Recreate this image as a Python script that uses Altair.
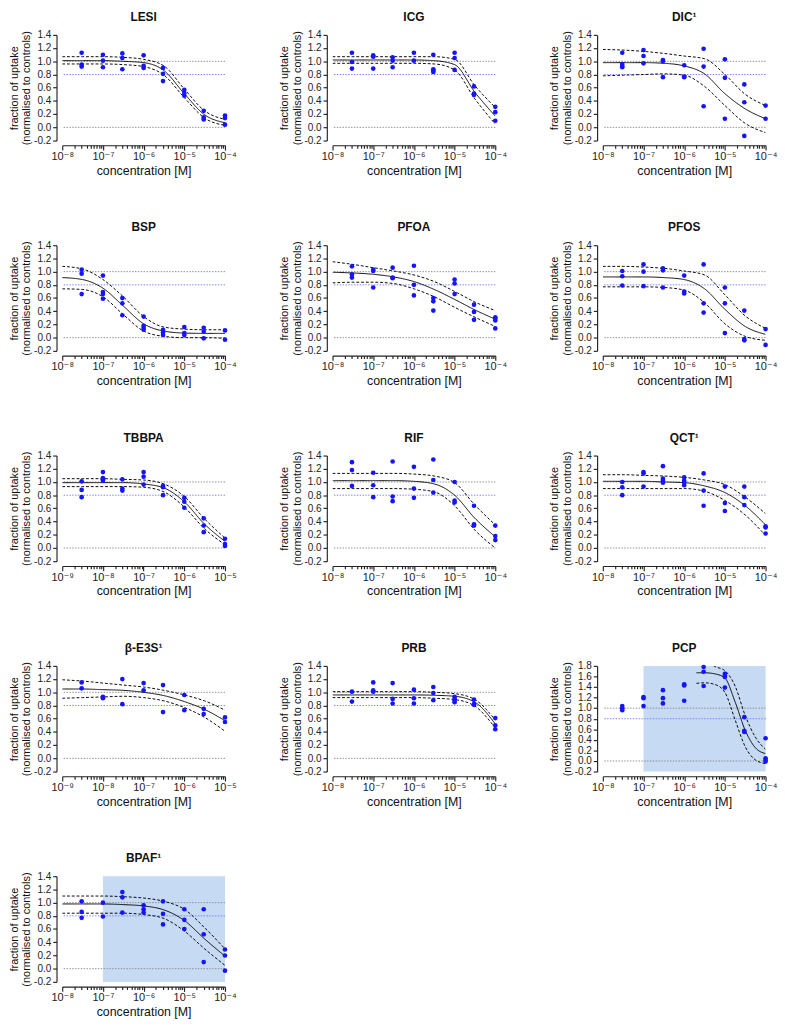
import altair as alt
import pandas as pd

FONT = "Liberation Sans, Arial, DejaVu Sans, sans-serif"
POINT_BLUE = "#1414ff"
REF_GREY = "#8a8a8a"
REF_BLUE = "#7b7bff"
SHADE = "#c6daf3"

# measured concentrations [M]
CONC_A = [3e-8, 1e-7, 3e-7, 1e-6, 3e-6, 1e-5, 3e-5, 1e-4]
CONC_B = [3e-9, 1e-8, 3e-8, 1e-7, 3e-7, 1e-6, 3e-6, 1e-5]

# concentrations at which the fitted curves / confidence bands were read
CURVE_A = [1e-8, 3.16e-8, 1e-7, 3.16e-7, 1e-6, 3.16e-6, 1e-5, 3.16e-5, 1e-4]
CURVE_B = [1e-9, 3.16e-9, 1e-8, 3.16e-8, 1e-7, 3.16e-7, 1e-6, 3.16e-6, 1e-5]
CURVE_PCP = [2e-6, 3.16e-6, 5.62e-6, 1e-5, 1.78e-5, 3.16e-5, 5.62e-5, 1e-4]

REF_LEVELS = [1.0, 0.8, 0.0]
REF_KINDS = ["grey", "blue", "grey"]

Y_TICKS_14 = [-0.2, 0.0, 0.2, 0.4, 0.6, 0.8, 1.0, 1.2, 1.4]
Y_TICKS_18 = [-0.2, 0.0, 0.2, 0.4, 0.6, 0.8, 1.0, 1.2, 1.4, 1.6, 1.8]

# ---------------- replicate values per concentration ----------------
LESI_pts = [[1.13, 0.95, 0.92], [1.10, 1.01, 0.91], [1.12, 1.05, 0.88], [1.09, 0.93, 0.90],
            [0.90, 0.81, 0.70], [0.57, 0.52, 0.48], [0.25, 0.15, 0.12], [0.18, 0.14, 0.04]]
LESI_fit = [1.01, 1.01, 1.01, 1.00, 0.98, 0.86, 0.51, 0.19, 0.07]
LESI_hi = [1.07, 1.07, 1.07, 1.06, 1.03, 0.93, 0.58, 0.25, 0.12]
LESI_lo = [0.96, 0.96, 0.96, 0.95, 0.92, 0.79, 0.45, 0.14, 0.03]

ICG_pts = [[1.13, 0.99, 0.89], [1.09, 1.07, 0.89], [1.06, 1.01, 0.91], [1.13, 1.01],
           [1.10, 0.88, 0.86, 0.84], [1.13, 1.05, 0.87], [0.62, 0.51, 0.49], [0.31, 0.23, 0.10]]
ICG_fit = [1.02, 1.02, 1.02, 1.02, 1.02, 1.01, 0.95, 0.53, 0.17]
ICG_hi = [1.07, 1.07, 1.07, 1.07, 1.07, 1.07, 1.03, 0.63, 0.30]
ICG_lo = [0.97, 0.97, 0.97, 0.97, 0.97, 0.96, 0.87, 0.43, 0.05]

DIC_pts = [[1.13, 0.96, 0.93, 0.91], [1.17, 1.08, 0.97], [1.02, 1.00, 0.76], [0.94, 0.77, 0.76],
           [1.19, 0.92, 0.32], [1.03, 0.75, 0.13], [0.65, 0.38, -0.13], [0.33, 0.13]]
DIC_fit = [0.98, 0.98, 0.98, 0.97, 0.93, 0.81, 0.51, 0.28, 0.13]
DIC_hi = [1.18, 1.17, 1.15, 1.12, 1.08, 1.04, 0.80, 0.50, 0.33]
DIC_lo = [0.78, 0.79, 0.80, 0.81, 0.79, 0.62, 0.33, 0.06, -0.08]

BSP_pts = [[1.03, 0.97, 0.66], [0.94, 0.69, 0.66, 0.59], [0.60, 0.52, 0.34], [0.32, 0.18, 0.15, 0.12],
           [0.12, 0.08, 0.04], [0.16, 0.07, 0.04], [0.15, 0.09, -0.01], [0.11, -0.03]]
BSP_fit = [0.91, 0.88, 0.75, 0.48, 0.21, 0.10, 0.07, 0.065, 0.065]
BSP_hi = [1.08, 1.04, 0.88, 0.62, 0.32, 0.16, 0.13, 0.12, 0.12]
BSP_lo = [0.74, 0.73, 0.62, 0.35, 0.10, 0.02, 0.00, 0.00, -0.01]

PFOA_pts = [[1.08, 0.96, 0.91], [1.03, 1.01, 0.76], [1.06, 0.91, 0.90], [1.09, 0.80, 0.64],
            [0.60, 0.55, 0.41], [0.88, 0.82, 0.66], [0.50, 0.39, 0.27], [0.31, 0.29, 0.26, 0.14]]
PFOA_fit = [0.99, 0.98, 0.96, 0.92, 0.85, 0.73, 0.58, 0.42, 0.28]
PFOA_hi = [1.15, 1.11, 1.06, 1.01, 0.95, 0.85, 0.70, 0.54, 0.41]
PFOA_lo = [0.83, 0.84, 0.84, 0.82, 0.74, 0.62, 0.46, 0.31, 0.17]

PFOS_pts = [[1.01, 0.93, 0.79], [1.11, 1.00, 0.78], [1.05, 1.02, 0.76], [0.94, 0.70, 0.67],
            [1.11, 0.52, 0.38], [0.76, 0.52, 0.07], [0.41, -0.02, -0.04], [0.13, -0.11]]
PFOS_fit = [0.92, 0.92, 0.92, 0.91, 0.88, 0.74, 0.43, 0.17, 0.05]
PFOS_hi = [1.08, 1.08, 1.07, 1.05, 1.01, 0.95, 0.65, 0.33, 0.14]
PFOS_lo = [0.77, 0.77, 0.77, 0.76, 0.72, 0.53, 0.21, 0.02, -0.04]

TBBPA_pts = [[1.01, 0.88, 0.77], [1.15, 1.06, 1.04, 1.02], [1.04, 0.90, 0.87], [1.15, 1.08, 0.96],
             [0.94, 0.92, 0.80], [0.76, 0.70, 0.61], [0.45, 0.34, 0.24], [0.14, 0.06, 0.03]]
TBBPA_fit = [0.99, 0.99, 0.99, 0.99, 0.97, 0.91, 0.70, 0.36, 0.10]
TBBPA_hi = [1.05, 1.05, 1.05, 1.04, 1.03, 0.97, 0.78, 0.44, 0.15]
TBBPA_lo = [0.93, 0.93, 0.93, 0.93, 0.92, 0.85, 0.62, 0.29, 0.05]

RIF_pts = [[1.30, 1.18, 0.94], [1.14, 0.95, 0.77], [1.31, 0.78, 0.71], [1.23, 0.90, 0.76],
           [1.34, 1.03, 0.84], [1.00, 0.72, 0.69], [0.64, 0.36, 0.34], [0.34, 0.18, 0.12]]
RIF_fit = [1.02, 1.02, 1.02, 1.02, 1.01, 0.97, 0.80, 0.45, 0.17]
RIF_hi = [1.13, 1.13, 1.13, 1.13, 1.12, 1.09, 0.99, 0.65, 0.35]
RIF_lo = [0.90, 0.90, 0.90, 0.90, 0.89, 0.85, 0.64, 0.27, 0.00]

QCT_pts = [[1.00, 0.92, 0.80], [1.15, 1.13, 0.93], [1.24, 1.05, 1.02, 0.99], [1.07, 1.02, 0.99, 0.95],
           [1.13, 0.87, 0.64], [0.93, 0.68, 0.56], [0.93, 0.77, 0.65], [0.33, 0.31, 0.22]]
QCT_fit = [1.01, 1.01, 1.01, 1.00, 0.99, 0.94, 0.84, 0.64, 0.35]
QCT_hi = [1.11, 1.11, 1.10, 1.09, 1.07, 1.03, 0.96, 0.77, 0.52]
QCT_lo = [0.90, 0.90, 0.90, 0.90, 0.90, 0.86, 0.72, 0.50, 0.19]

E3S_pts = [[1.15, 1.06], [0.93, 0.91], [1.20, 0.82], [1.14, 1.03],
           [1.11, 0.70], [0.96, 0.73], [0.75, 0.67], [0.62, 0.55]]
E3S_fit = [1.05, 1.05, 1.04, 1.03, 1.00, 0.95, 0.86, 0.74, 0.57]
E3S_hi = [1.19, 1.17, 1.14, 1.11, 1.08, 1.03, 0.96, 0.87, 0.73]
E3S_lo = [0.91, 0.92, 0.93, 0.94, 0.92, 0.87, 0.77, 0.62, 0.41]

PRB_pts = [[1.01, 0.86], [1.15, 1.03, 1.01], [1.14, 0.90, 0.83], [1.04, 0.91, 0.83],
           [1.08, 0.99, 0.88], [0.93, 0.90, 0.87, 0.85], [0.89, 0.82, 0.81], [0.61, 0.50, 0.44]]
PRB_fit = [0.96, 0.96, 0.96, 0.96, 0.96, 0.955, 0.94, 0.85, 0.52]
PRB_hi = [1.01, 1.01, 1.01, 1.01, 1.01, 1.00, 0.98, 0.89, 0.58]
PRB_lo = [0.92, 0.92, 0.92, 0.92, 0.92, 0.91, 0.89, 0.79, 0.46]

PCP_pts = [[1.04, 1.00, 0.96], [1.21, 1.19, 1.04], [1.34, 1.19, 1.09], [1.45, 1.43, 1.14],
           [1.78, 1.69, 1.42], [1.65, 1.62, 1.59, 1.39], [0.83, 0.57, 0.55], [0.43, 0.05, 0.02, -0.01]]
PCP_fit = [1.67, 1.67, 1.65, 1.57, 1.12, 0.58, 0.25, 0.14]
PCP_hi = [1.95, 1.92, 1.79, 1.71, 1.42, 0.86, 0.45, 0.22]
PCP_lo = [1.47, 1.48, 1.45, 1.30, 0.78, 0.27, 0.02, -0.05]

BPAF_pts = [[1.02, 0.86, 0.77], [1.00, 0.79], [1.16, 1.08, 0.85], [0.96, 0.90, 0.85],
            [1.02, 0.83, 0.67], [0.90, 0.74, 0.60], [0.90, 0.52, 0.10], [0.29, 0.20, -0.03]]
BPAF_fit = [0.98, 0.98, 0.98, 0.97, 0.95, 0.89, 0.73, 0.45, 0.19]
BPAF_hi = [1.10, 1.10, 1.10, 1.09, 1.07, 1.02, 0.90, 0.62, 0.30]
BPAF_lo = [0.84, 0.84, 0.84, 0.84, 0.82, 0.76, 0.57, 0.30, 0.05]

PCP_shade = [1e-7, 1e-4]
BPAF_shade = [1e-7, 1e-4]

PANELS = [
    ("LESI", (-8, -4), CONC_A, LESI_pts, CURVE_A, LESI_fit, LESI_hi, LESI_lo, None, False),
    ("ICG", (-8, -4), CONC_A, ICG_pts, CURVE_A, ICG_fit, ICG_hi, ICG_lo, None, False),
    ("DIC¹", (-8, -4), CONC_A, DIC_pts, CURVE_A, DIC_fit, DIC_hi, DIC_lo, None, False),
    ("BSP", (-8, -4), CONC_A, BSP_pts, CURVE_A, BSP_fit, BSP_hi, BSP_lo, None, False),
    ("PFOA", (-8, -4), CONC_A, PFOA_pts, CURVE_A, PFOA_fit, PFOA_hi, PFOA_lo, None, False),
    ("PFOS", (-8, -4), CONC_A, PFOS_pts, CURVE_A, PFOS_fit, PFOS_hi, PFOS_lo, None, False),
    ("TBBPA", (-9, -5), CONC_B, TBBPA_pts, CURVE_B, TBBPA_fit, TBBPA_hi, TBBPA_lo, None, False),
    ("RIF", (-8, -4), CONC_A, RIF_pts, CURVE_A, RIF_fit, RIF_hi, RIF_lo, None, False),
    ("QCT¹", (-8, -4), CONC_A, QCT_pts, CURVE_A, QCT_fit, QCT_hi, QCT_lo, None, False),
    ("β-E3S¹", (-9, -5), CONC_B, E3S_pts, CURVE_B, E3S_fit, E3S_hi, E3S_lo, None, False),
    ("PRB", (-8, -4), CONC_A, PRB_pts, CURVE_A, PRB_fit, PRB_hi, PRB_lo, None, False),
    ("PCP", (-8, -4), CONC_A, PCP_pts, CURVE_PCP, PCP_fit, PCP_hi, PCP_lo, PCP_shade, True),
    ("BPAF¹", (-8, -4), CONC_A, BPAF_pts, CURVE_A, BPAF_fit, BPAF_hi, BPAF_lo, BPAF_shade, False),
]

SUP = {-9: "⁻⁹", -8: "⁻⁸", -7: "⁻⁷", -6: "⁻⁶", -5: "⁻⁵", -4: "⁻⁴"}
LOG10 = "(log(datum.value)/LN10)"
IS_MAJOR = f"abs({LOG10} - round({LOG10})) < 0.01"

PLOT_W, PLOT_H = 171, 111


def x_label_expr(lo, hi):
    expr = "''"
    for k in range(hi, lo - 1, -1):
        expr = f"round({LOG10}) == {k} ? '10{SUP[k]}' : ({expr})"
    return f"({IS_MAJOR}) ? ({expr}) : ''"


def make_panel(title, xexp, conc, pts, cx, fit, hi, lo_band, shade, tall):
    lo, hi_e = xexp
    ticks = [m * 10.0 ** k for k in range(lo, hi_e) for m in range(1, 10)] + [10.0 ** hi_e]
    ydom = [-0.2, 1.8] if tall else [-0.2, 1.4]
    yticks = Y_TICKS_18 if tall else Y_TICKS_14

    xscale = alt.Scale(type="log", domain=[10.0 ** lo, 10.0 ** hi_e], nice=False)
    yscale = alt.Scale(domain=ydom, nice=False, zero=False)

    xaxis = alt.Axis(
        title="concentration [M]", values=ticks, labelExpr=x_label_expr(lo, hi_e),
        tickSize={"condition": {"test": IS_MAJOR, "value": 5}, "value": 3},
        offset=5, labelFlush=False, labelOverlap=False, labelPadding=1,
        titlePadding=3, labelFontSize=11.5, titleFontSize=13,
    )
    yaxis = alt.Axis(
        title=["fraction of uptake", "(normalised to controls)"], values=yticks,
        labelExpr="replace(format(datum.value, '.1f'), '\u2212', '-')",
        tickSize=4, offset=6, labelFlush=False, labelOverlap=False, labelPadding=2,
        titlePadding=2, labelFontSize=10.5, titleFontSize=11.5, titleLineHeight=13,
    )

    x_ax = alt.X("c:Q", scale=xscale, axis=xaxis)
    y_ax = alt.Y("v:Q", scale=yscale, axis=yaxis)

    pts_df = pd.DataFrame([{"c": c, "v": v} for c, reps in zip(conc, pts) for v in reps])
    line_rows = []
    for band, vals in (("fit", fit), ("upper", hi), ("lower", lo_band)):
        for c, v in zip(cx, vals):
            line_rows.append({"c": c, "v": v, "band": band})
    lines_df = pd.DataFrame(line_rows)
    ref_df = pd.DataFrame({"v": REF_LEVELS, "kind": REF_KINDS})

    layers = []
    if shade is not None:
        shade_df = pd.DataFrame({"c": [shade[0]], "c2": [shade[1]], "v": [ydom[0]], "v2": [ydom[1]]})
        layers.append(
            alt.Chart(shade_df).mark_rect(color=SHADE).encode(x=x_ax, x2="c2:Q", y=y_ax, y2="v2:Q")
        )
    layers.append(
        alt.Chart(ref_df).mark_rule(strokeDash=[1.5, 1.5], strokeWidth=1).encode(
            y=y_ax,
            color=alt.Color("kind:N", scale=alt.Scale(domain=["grey", "blue"], range=[REF_GREY, REF_BLUE]),
                            legend=None),
        )
    )
    layers.append(
        alt.Chart(lines_df).mark_line(color="black", strokeWidth=1, interpolate="monotone", clip=True).encode(
            x=x_ax, y=y_ax, detail="band:N",
            strokeDash=alt.StrokeDash("band:N", scale=alt.Scale(domain=["fit", "upper", "lower"],
                                                               range=[[1, 0], [3, 2], [3, 2]]), legend=None),
        )
    )
    layers.append(
        alt.Chart(pts_df).mark_circle(color=POINT_BLUE, opacity=1, size=24).encode(x=x_ax, y=y_ax)
    )
    return alt.layer(*layers).properties(
        width=PLOT_W, height=PLOT_H,
        title=alt.TitleParams(title, frame="group", anchor="middle", offset=7),
    )


panels = [make_panel(*p) for p in PANELS]

chart = alt.concat(*panels, columns=3, spacing=alt.RowColnumber(row=46, column=44)).properties(
    padding={"left": 0, "top": -23, "right": 0, "bottom": 0}
).configure_view(stroke=None).configure_axis(
    labelFont=FONT, titleFont=FONT, titleFontWeight="normal", labelColor="#222", titleColor="#111",
    domainColor="#222", tickColor="#222", domainWidth=1.2, tickWidth=1.2, grid=False,
).configure_title(font=FONT, fontSize=12.5, fontWeight="bold", color="#111")

chart.save("out.html", embed_options={"renderer": "svg", "actions": False})
